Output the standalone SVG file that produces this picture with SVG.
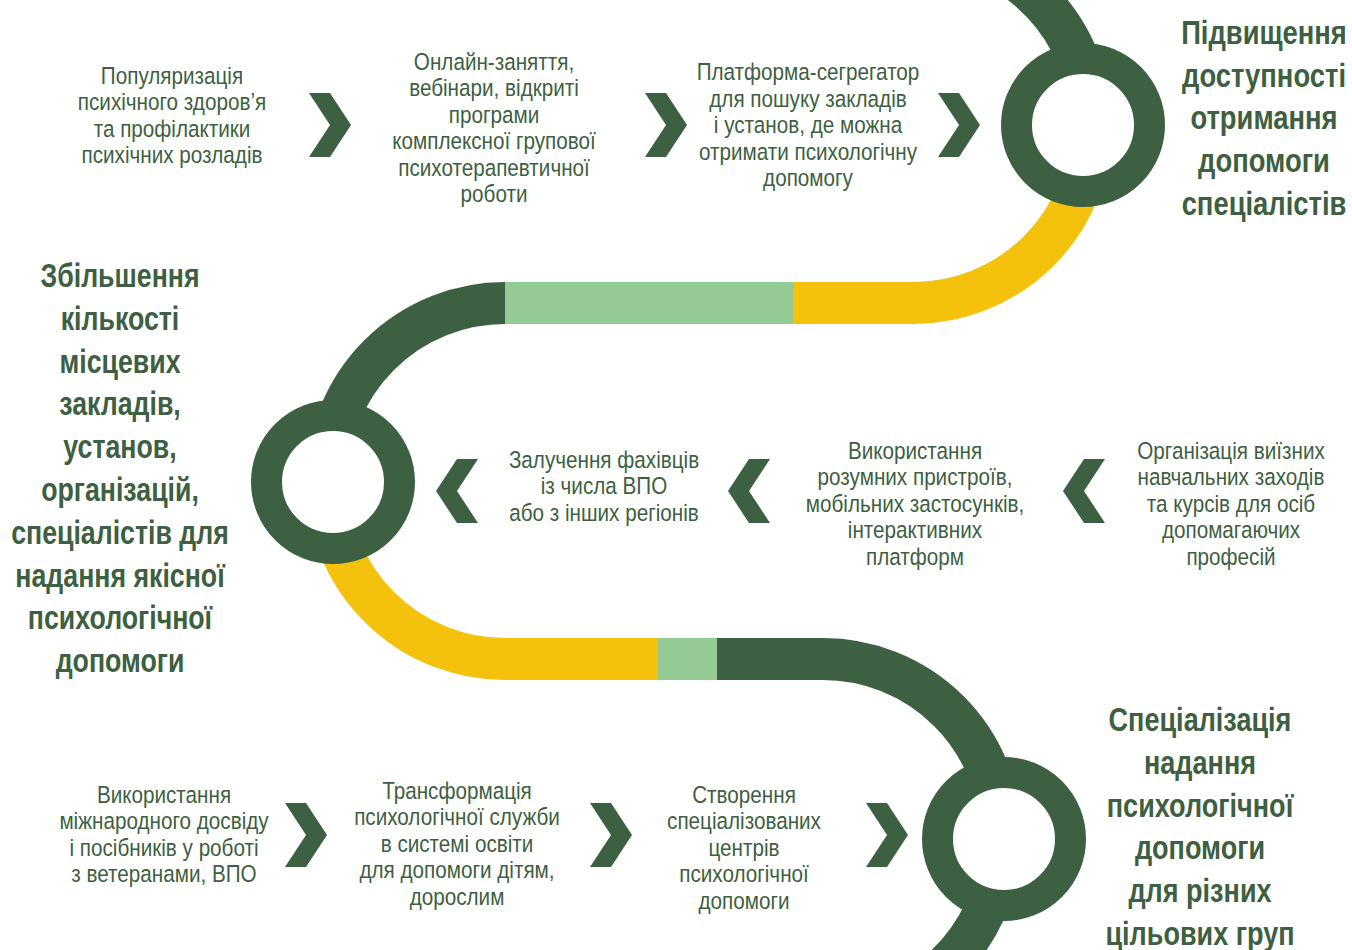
<svg xmlns="http://www.w3.org/2000/svg" xmlns:xlink="http://www.w3.org/1999/xlink" width="1352" height="950" viewBox="0 0 1352 950">
<defs>
<style>
.trk{fill:none;stroke-width:42;stroke-linecap:butt}
.dk{stroke:#3d6042}
.yl{stroke:#f4c20d}
.lg{stroke:#94ca94}
.ring{fill:#ffffff;stroke:#3d6042;stroke-width:31}
.chev{fill:#3d6042}
.r{font-family:'Liberation Sans',Arial,sans-serif;font-size:23.5px;fill:#3e5f41;text-anchor:middle}
.b{font-family:'Liberation Sans',Arial,sans-serif;font-size:33px;font-weight:bold;fill:#3e5f41;text-anchor:middle}
</style>
<polygon id="chR" points="0,0 21,0 42,32 21,64 0,64 21,32"/>
<polygon id="chL" points="42,0 21,0 0,32 21,64 42,64 21,32"/>
</defs>
<rect width="1352" height="950" fill="#ffffff"/>
<g id="connectors">
<path class="trk dk" d="M1016,-20 A178,178 0 0 1 1091,125"/>
<path class="trk yl" d="M1091,125 A178,178 0 0 1 913,303 L792.5,303"/>
<path class="trk lg" d="M793,303 L504.5,303"/>
<path class="trk dk" d="M505,303 A178,178 0 0 0 327,481"/>
<path class="trk yl" d="M327,481 A178,178 0 0 0 505,659 L658.5,659"/>
<path class="trk lg" d="M658,659 L717.5,659"/>
<path class="trk dk" d="M717,659 L823,659 A178,178 0 0 1 1001,837 A178,178 0 0 1 941,970"/>
</g>
<g id="ring1"><circle class="ring" cx="1083" cy="125" r="66.5"/></g>
<g id="ring2"><circle class="ring" cx="333" cy="482" r="66.5"/></g>
<g id="ring3"><circle class="ring" cx="1004" cy="839" r="66.5"/></g>
<g id="chevrons" class="chev">
<use xlink:href="#chR" x="309" y="93"/>
<use xlink:href="#chR" x="645" y="93"/>
<use xlink:href="#chR" x="938" y="93"/>
<use xlink:href="#chL" x="436" y="459"/>
<use xlink:href="#chL" x="728" y="459"/>
<use xlink:href="#chL" x="1063" y="459"/>
<use xlink:href="#chR" x="285" y="803"/>
<use xlink:href="#chR" x="590" y="803"/>
<use xlink:href="#chR" x="866" y="803"/>
</g>
<g id="goal1" transform="translate(1264,0) scale(0.83,1)">
<text class="b" x="0" y="44">Підвищення</text>
<text class="b" x="0" y="86.75">доступності</text>
<text class="b" x="0" y="129.5">отримання</text>
<text class="b" x="0" y="172.25">допомоги</text>
<text class="b" x="0" y="215">спеціалістів</text>
</g>
<g id="goal2" transform="translate(120,0) scale(0.81,1)">
<text class="b" x="0" y="287">Збільшення</text>
<text class="b" x="0" y="329.8">кількості</text>
<text class="b" x="0" y="372.6">місцевих</text>
<text class="b" x="0" y="415.4">закладів,</text>
<text class="b" x="0" y="458.2">установ,</text>
<text class="b" x="0" y="501">організацій,</text>
<text class="b" x="0" y="543.8">спеціалістів для</text>
<text class="b" x="0" y="586.6">надання якісної</text>
<text class="b" x="0" y="629.4">психологічної</text>
<text class="b" x="0" y="672.2">допомоги</text>
</g>
<g id="goal3" transform="translate(1200,0) scale(0.82,1)">
<text class="b" x="0" y="731">Спеціалізація</text>
<text class="b" x="0" y="773.8">надання</text>
<text class="b" x="0" y="816.6">психологічної</text>
<text class="b" x="0" y="859.4">допомоги</text>
<text class="b" x="0" y="902.2">для різних</text>
<text class="b" x="0" y="945">цільових груп</text>
</g>
<g id="step1" transform="translate(172,0) scale(0.88,1)">
<text class="r" x="0" y="84">Популяризація</text>
<text class="r" x="0" y="110.5">психічного здоров’я</text>
<text class="r" x="0" y="137">та профілактики</text>
<text class="r" x="0" y="163.5">психічних розладів</text>
</g>
<g id="step2" transform="translate(494,0) scale(0.88,1)">
<text class="r" x="0" y="70">Онлайн-заняття,</text>
<text class="r" x="0" y="96.5">вебінари, відкриті</text>
<text class="r" x="0" y="123">програми</text>
<text class="r" x="0" y="149.5">комплексної групової</text>
<text class="r" x="0" y="176">психотерапевтичної</text>
<text class="r" x="0" y="202.5">роботи</text>
</g>
<g id="step3" transform="translate(808,0) scale(0.88,1)">
<text class="r" x="0" y="80.5">Платформа-сегрегатор</text>
<text class="r" x="0" y="107">для пошуку закладів</text>
<text class="r" x="0" y="133.5">і установ, де можна</text>
<text class="r" x="0" y="160">отримати психологічну</text>
<text class="r" x="0" y="186.5">допомогу</text>
</g>
<g id="step4" transform="translate(604,0) scale(0.88,1)">
<text class="r" x="0" y="468">Залучення фахівців</text>
<text class="r" x="0" y="494.5">із числа ВПО</text>
<text class="r" x="0" y="521">або з інших регіонів</text>
</g>
<g id="step5" transform="translate(915,0) scale(0.88,1)">
<text class="r" x="0" y="459">Використання</text>
<text class="r" x="0" y="485.5">розумних пристроїв,</text>
<text class="r" x="0" y="512">мобільних застосунків,</text>
<text class="r" x="0" y="538.5">інтерактивних</text>
<text class="r" x="0" y="565">платформ</text>
</g>
<g id="step6" transform="translate(1231,0) scale(0.88,1)">
<text class="r" x="0" y="459">Організація виїзних</text>
<text class="r" x="0" y="485.5">навчальних заходів</text>
<text class="r" x="0" y="512">та курсів для осіб</text>
<text class="r" x="0" y="538.5">допомагаючих</text>
<text class="r" x="0" y="565">професій</text>
</g>
<g id="step7" transform="translate(164,0) scale(0.88,1)">
<text class="r" x="0" y="803">Використання</text>
<text class="r" x="0" y="829.5">міжнародного досвіду</text>
<text class="r" x="0" y="856">і посібників у роботі</text>
<text class="r" x="0" y="882.5">з ветеранами, ВПО</text>
</g>
<g id="step8" transform="translate(457,0) scale(0.88,1)">
<text class="r" x="0" y="799">Трансформація</text>
<text class="r" x="0" y="825.5">психологічної служби</text>
<text class="r" x="0" y="852">в системі освіти</text>
<text class="r" x="0" y="878.5">для допомоги дітям,</text>
<text class="r" x="0" y="905">дорослим</text>
</g>
<g id="step9" transform="translate(744,0) scale(0.88,1)">
<text class="r" x="0" y="803">Створення</text>
<text class="r" x="0" y="829.5">спеціалізованих</text>
<text class="r" x="0" y="856">центрів</text>
<text class="r" x="0" y="882.5">психологічної</text>
<text class="r" x="0" y="909">допомоги</text>
</g>
</svg>
